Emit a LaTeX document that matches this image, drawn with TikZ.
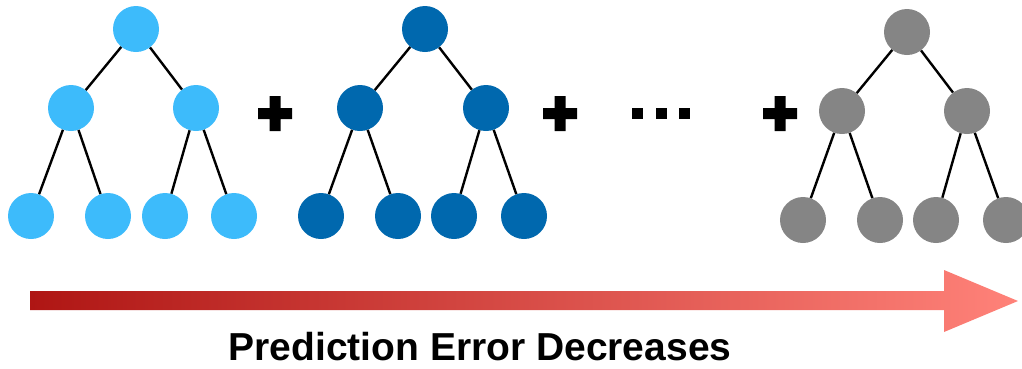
\documentclass[tikz,border=0pt]{standalone}
\usepackage{fontspec}
\setmainfont{Liberation Sans}
\usetikzlibrary{positioning}

\definecolor{lightleaf}{HTML}{3DBBFB}
\definecolor{darkleaf}{HTML}{0068AE}
\definecolor{greyleaf}{HTML}{858585}
\definecolor{arrowdark}{HTML}{AF1614}
\definecolor{arrowlight}{HTML}{FF8279}

\tikzset{
  treenode/.style={circle, inner sep=0pt, minimum size=46pt},
  branch/.style={line width=2.4pt, black}
}

\begin{document}
\begin{tikzpicture}[x=1pt, y=-1pt, every node/.style={font=\bfseries}]
    \useasboundingbox (0,0) rectangle (1022,368);
    % first tree
    \node (ar) [treenode, fill=lightleaf] at (136,29) {};
    \node (al) [treenode, fill=lightleaf] at (71,108) {};
    \node (am) [treenode, fill=lightleaf] at (196,108) {};
    \node (a1) [treenode, fill=lightleaf] at (31,216) {};
    \node (a2) [treenode, fill=lightleaf] at (108,216) {};
    \node (a3) [treenode, fill=lightleaf] at (165,216) {};
    \node (a4) [treenode, fill=lightleaf] at (234,216) {};
    \draw[branch] (ar) -- (al);
    \draw[branch] (ar) -- (am);
    \draw[branch] (al) -- (a1);
    \draw[branch] (al) -- (a2);
    \draw[branch] (am) -- (a3);
    \draw[branch] (am) -- (a4);
    % second tree
    \node (br) [treenode, fill=darkleaf] at (425,29) {};
    \node (bl) [treenode, fill=darkleaf] at (360,108) {};
    \node (bm) [treenode, fill=darkleaf] at (486,108) {};
    \node (b1) [treenode, fill=darkleaf] at (321,216) {};
    \node (b2) [treenode, fill=darkleaf] at (398,216) {};
    \node (b3) [treenode, fill=darkleaf] at (454,216) {};
    \node (b4) [treenode, fill=darkleaf] at (524,216) {};
    \draw[branch] (br) -- (bl);
    \draw[branch] (br) -- (bm);
    \draw[branch] (bl) -- (b1);
    \draw[branch] (bl) -- (b2);
    \draw[branch] (bm) -- (b3);
    \draw[branch] (bm) -- (b4);
    % last tree
    \node (cr) [treenode, fill=greyleaf] at (907,32) {};
    \node (cl) [treenode, fill=greyleaf] at (842,111) {};
    \node (cm) [treenode, fill=greyleaf] at (967,111) {};
    \node (c1) [treenode, fill=greyleaf] at (803,220) {};
    \node (c2) [treenode, fill=greyleaf] at (880,220) {};
    \node (c3) [treenode, fill=greyleaf] at (936,220) {};
    \node (c4) [treenode, fill=greyleaf] at (1006,220) {};
    \draw[branch] (cr) -- (cl);
    \draw[branch] (cr) -- (cm);
    \draw[branch] (cl) -- (c1);
    \draw[branch] (cl) -- (c2);
    \draw[branch] (cm) -- (c3);
    \draw[branch] (cm) -- (c4);
    % plus signs and dots
    \foreach \px in {275,560,780}
        \fill (\px-17,108) rectangle (\px+17,119) (\px-5.5,96) rectangle (\px+5.5,131);
    \foreach \dx in {637,661,684}
        \fill (\dx-5.5,108) rectangle (\dx+5.5,119);
    % arrow
    \shade[left color=arrowdark, right color=arrowlight]
        (30,291) -- (944,291) -- (944,270) -- (1018,301) -- (944,332) -- (944,310) -- (30,310) -- cycle;
    \node (caption) [anchor=base, font=\fontsize{39}{44}\selectfont\bfseries] at (480,360)
        {Prediction Error Decreases};
\end{tikzpicture}
\end{document}
